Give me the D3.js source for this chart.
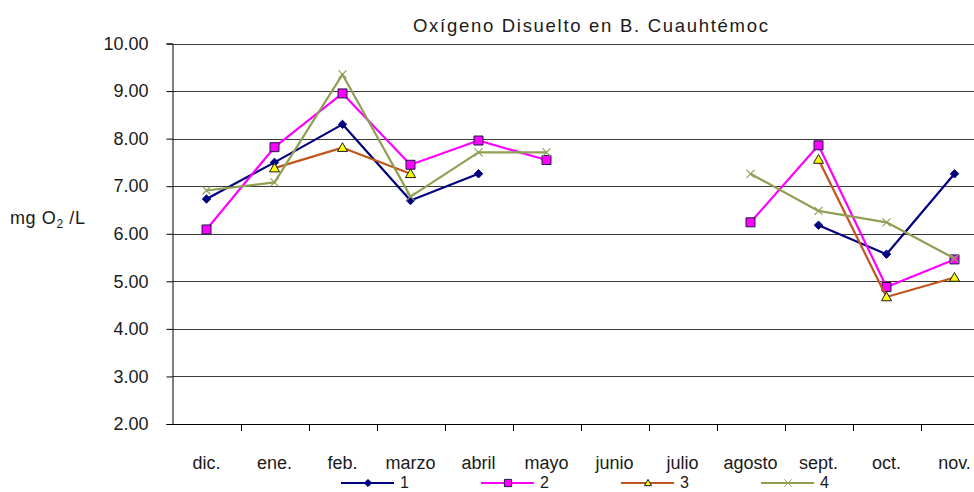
<!DOCTYPE html>
<html>
<head>
<meta charset="utf-8">
<script src="https://cdn.jsdelivr.net/npm/d3@7"></script>
<style>
  body { margin: 0; background: #fff; }
  svg { display: block; }
  text { font-family: "Liberation Sans", Arial, sans-serif; fill: #1a1a1a; }
</style>
</head>
<body>
<svg id="chart" width="974" height="492"></svg>
<script>
// datos
const months = ['dic.', 'ene.', 'feb.', 'marzo', 'abril', 'mayo', 'junio', 'julio', 'agosto', 'sept.', 'oct.', 'nov.'];
const serie1 = [6.73, 7.50, 8.30, 6.70, 7.26, null, null, null, null, 6.18, 5.57, 7.26];
const serie2 = [6.09, 7.82, 8.95, 7.45, 7.96, 7.55, null, null, 6.24, 7.86, 4.88, 5.46];
const serie3 = [null, 7.38, 7.81, 7.26, null, null, null, null, null, 7.56, 4.67, 5.08];
const serie4 = [6.91, 7.08, 9.35, 6.78, 7.71, 7.71, null, null, 7.26, 6.48, 6.24, 5.48];
const seriesNames = ['1', '2', '3', '4'];
const yTicks = [2, 3, 4, 5, 6, 7, 8, 9, 10];

const allSeries = [serie1, serie2, serie3, serie4];
const styles = [
  { color: '#000080', marker: 'diamond', fill: '#000080', stroke: '#000080' },
  { color: '#ff00ff', marker: 'square', fill: '#ff00ff', stroke: '#1a1a40' },
  { color: '#c0561e', marker: 'triangle', fill: '#ffff00', stroke: '#1a1a1a' },
  { color: '#8fa055', marker: 'x', fill: 'none', stroke: '#8fa055' }
];

const svg = d3.select('#chart');
const plotLeft = 172.5, plotTop = 43.5, plotBottom = 424;

const x = d3.scaleBand().domain(months).range([plotLeft, plotLeft + 68 * months.length]);
const y = d3.scaleLinear().domain([2, 10]).range([plotBottom, plotTop]);

// título
svg.append('text')
  .attr('x', 413).attr('y', 32)
  .attr('textLength', 355).attr('lengthAdjust', 'spacing')
  .style('font-size', '18.5px')
  .text('Oxígeno Disuelto en B. Cuauhtémoc');

// líneas de la cuadrícula
svg.append('g')
  .selectAll('line')
  .data(yTicks.filter(d => d > 2))
  .join('line')
  .attr('x1', plotLeft).attr('x2', 974)
  .attr('y1', d => Math.round(y(d)) + 0.5).attr('y2', d => Math.round(y(d)) + 0.5)
  .attr('stroke', '#3a3a3a').attr('stroke-width', 1);

// eje Y
const yAxis = svg.append('g')
  .attr('transform', `translate(${plotLeft},0)`)
  .call(d3.axisLeft(y).tickValues(yTicks).tickFormat(d3.format('.2f')).tickSize(6).tickPadding(18));
yAxis.select('.domain').attr('stroke', '#000');
yAxis.selectAll('.tick line').attr('stroke', '#000');
yAxis.selectAll('text').style('font-size', '18px').attr('fill', '#1a1a1a');

// eje X
svg.append('line')
  .attr('x1', plotLeft).attr('x2', 974)
  .attr('y1', Math.round(plotBottom) + 0.5).attr('y2', Math.round(plotBottom) + 0.5)
  .attr('stroke', '#000');
svg.append('g')
  .selectAll('line')
  .data(months.slice(1))
  .join('line')
  .attr('x1', d => Math.round(x(d)) + 0.5).attr('x2', d => Math.round(x(d)) + 0.5)
  .attr('y1', plotBottom).attr('y2', plotBottom + 7)
  .attr('stroke', '#000');

const xAxis = svg.append('g')
  .attr('transform', `translate(0,${plotBottom})`)
  .call(d3.axisBottom(x).tickSize(0).tickPadding(32));
xAxis.select('.domain').remove();
xAxis.selectAll('text').style('font-size', '18px').attr('fill', '#1a1a1a');

// etiqueta del eje Y
const yLabel = svg.append('text').attr('x', 10).attr('y', 224)
  .style('font-size', '18px').style('letter-spacing', '0.6px');
yLabel.append('tspan').text('mg O');
yLabel.append('tspan').attr('dy', 4).style('font-size', '12px').text('2');
yLabel.append('tspan').attr('dy', -4).text(' /L');

function markerPath(type, r) {
  if (type === 'diamond') return `M0,${-r}L${r},0L0,${r}L${-r},0Z`;
  if (type === 'square') return `M${-r},${-r}H${r}V${r}H${-r}Z`;
  if (type === 'triangle') return `M0,${-r}L${r},${r * 0.75}L${-r},${r * 0.75}Z`;
  return `M${-r},${-r}L${r},${r}M${-r},${r}L${r},${-r}`;
}
const markerSize = { diamond: 4.2, square: 4.5, triangle: 5, x: 4 };

const line = d3.line()
  .defined(d => d != null)
  .x((d, i) => x(months[i]) + x.bandwidth() / 2)
  .y(d => y(d));

allSeries.forEach((values, s) => {
  const st = styles[s];
  const g = svg.append('g');
  g.append('path')
    .datum(values)
    .attr('d', line)
    .attr('fill', 'none')
    .attr('stroke', st.color)
    .attr('stroke-width', 2.2)
    .attr('stroke-linejoin', 'round');

  g.selectAll('path.marker')
    .data(values.map((v, i) => ({ v, m: months[i] })).filter(d => d.v != null))
    .join('path')
    .attr('class', 'marker')
    .attr('transform', d => `translate(${x(d.m) + x.bandwidth() / 2},${y(d.v)})`)
    .attr('d', markerPath(st.marker, markerSize[st.marker]))
    .attr('fill', st.fill)
    .attr('stroke', st.stroke)
    .attr('stroke-width', st.marker === 'x' ? 1.2 : 1);
});

// leyenda
const legend = svg.append('g');
seriesNames.forEach((name, s) => {
  const st = styles[s];
  const lx = 341 + s * 140;
  const ly = 483;
  legend.append('line')
    .attr('x1', lx).attr('x2', lx + 53)
    .attr('y1', ly).attr('y2', ly)
    .attr('stroke', st.color).attr('stroke-width', 2.2);
  legend.append('path')
    .attr('transform', `translate(${lx + 27},${ly})`)
    .attr('d', markerPath(st.marker, 3.6))
    .attr('fill', st.fill)
    .attr('stroke', st.stroke)
    .attr('stroke-width', 1);
  legend.append('text')
    .attr('x', lx + 59).attr('y', 488)
    .style('font-size', '16px')
    .text(name);
});
</script>
</body>
</html>
